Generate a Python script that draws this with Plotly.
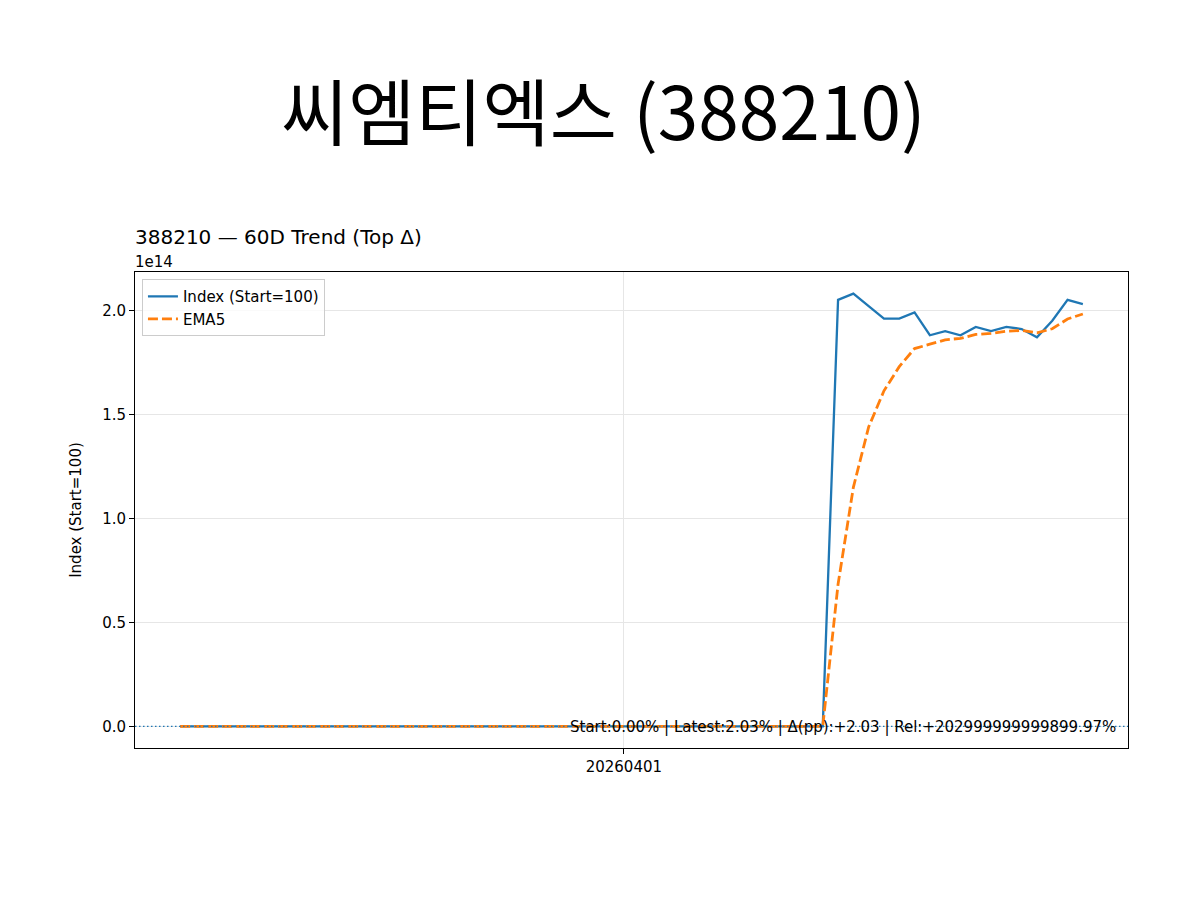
import plotly.graph_objects as go

# trading days (category axis), 60 sessions
dates = [
    "20260219", "20260220", "20260223", "20260224", "20260225", "20260226", "20260227",
    "20260302", "20260303", "20260304", "20260305", "20260306",
    "20260309", "20260310", "20260311", "20260312", "20260313",
    "20260316", "20260317", "20260318", "20260319", "20260320",
    "20260323", "20260324", "20260325", "20260326", "20260327",
    "20260330", "20260331", "20260401", "20260402", "20260403",
    "20260406", "20260407", "20260408", "20260409", "20260410",
    "20260413", "20260414", "20260415", "20260416", "20260417",
    "20260420", "20260421", "20260422", "20260423", "20260424",
    "20260427", "20260428", "20260429", "20260430", "20260501",
    "20260504", "20260505", "20260506", "20260507", "20260508",
    "20260511", "20260512", "20260513",
]

index_vals = [100] * 43 + [
    2.05e14, 2.08e14, 2.02e14, 1.96e14, 1.96e14, 1.99e14, 1.88e14, 1.90e14, 1.88e14,
    1.92e14, 1.90e14, 1.92e14, 1.91e14, 1.87e14, 1.95e14, 2.05e14, 2.03e14,
]

ema5_vals = [100] * 43 + [
    0.683e14, 1.149e14, 1.439e14, 1.613e14, 1.729e14, 1.816e14, 1.837e14, 1.858e14, 1.865e14,
    1.884e14, 1.889e14, 1.899e14, 1.903e14, 1.892e14, 1.911e14, 1.958e14, 1.982e14,
]

y_ticks = [0, 0.5e14, 1.0e14, 1.5e14, 2.0e14]
y_tick_text = ["0.0", "0.5", "1.0", "1.5", "2.0"]
x_tick = "20260401"

note = "Start:0.00% | Latest:2.03% | Δ(pp):+2.03 | Rel:+202999999999899.97%"

x_idx = list(range(len(dates)))
pad_x = 0.05 * (len(dates) - 1)
y_lo, y_hi = min(index_vals + ema5_vals), max(index_vals + ema5_vals)
pad_y = 0.05 * (y_hi - y_lo)

fig = go.Figure()
fig.add_trace(go.Scatter(x=x_idx, y=index_vals, mode="lines", name="Index (Start=100)",
                         line=dict(color="#1f77b4", width=2.3)))
fig.add_trace(go.Scatter(x=x_idx, y=ema5_vals, mode="lines", name="EMA5",
                         line=dict(color="#ff7f0e", width=2.8, dash="10px,4px")))

# baseline at start value
fig.add_hline(y=100, line=dict(color="#1f77b4", width=1.3, dash="1.5px,2.5px"))

font = "DejaVu Sans"
plot_l, plot_w, plot_h = 135, 993, 476
fig.update_layout(
    width=1200, height=900,
    paper_bgcolor="white", plot_bgcolor="white",
    margin=dict(l=127, r=80, t=264, b=160),
    font=dict(family=font, size=15, color="black"),
    showlegend=True,
    legend=dict(x=0.007, y=0.985, xanchor="left", yanchor="top",
                bgcolor="rgba(255,255,255,0.8)", bordercolor="#cccccc", borderwidth=1,
                font=dict(size=15), tracegroupgap=0),
    xaxis=dict(range=[-pad_x, len(dates) - 1 + pad_x],
               tickvals=[dates.index(x_tick)], ticktext=[x_tick],
               ticks="outside", ticklen=5, tickcolor="black",
               showgrid=True, gridcolor="#e6e6e6", gridwidth=1,
               showline=True, linecolor="black", linewidth=1, mirror=True,
               zeroline=False, tickfont=dict(size=15)),
    yaxis=dict(range=[y_lo - pad_y, y_hi + pad_y],
               tickvals=y_ticks, ticktext=y_tick_text,
               ticks="outside", ticklen=5, tickcolor="black",
               showgrid=True, gridcolor="#e6e6e6", gridwidth=1,
               showline=True, linecolor="black", linewidth=1, mirror=True,
               zeroline=False, tickfont=dict(size=15),
               title=dict(text="Index (Start=100)", font=dict(size=15), standoff=16)),
)

fig.add_annotation(text="씨엠티엑스 (388210)", xref="paper", yref="paper",
                   x=(603 - plot_l) / plot_w, y=1 + (272 - 108) / plot_h,
                   xanchor="center", yanchor="middle",
                   showarrow=False, font=dict(family="Noto Sans CJK KR", size=73, color="black"))
fig.add_annotation(text="388210 — 60D Trend (Top Δ)", xref="paper", yref="paper",
                   x=-0.002, y=1 + (272 - 237) / plot_h, xanchor="left", yanchor="middle",
                   showarrow=False, font=dict(size=20))
fig.add_annotation(text="1e14", xref="paper", yref="paper",
                   x=-0.002, y=1 + (272 - 262) / plot_h, xanchor="left", yanchor="middle",
                   showarrow=False, font=dict(size=15))
fig.add_annotation(text=note, xref="paper", yref="paper",
                   x=0.99, y=0.02, xanchor="right", yanchor="bottom",
                   showarrow=False, font=dict(size=15))

fig.write_html("out.html")
